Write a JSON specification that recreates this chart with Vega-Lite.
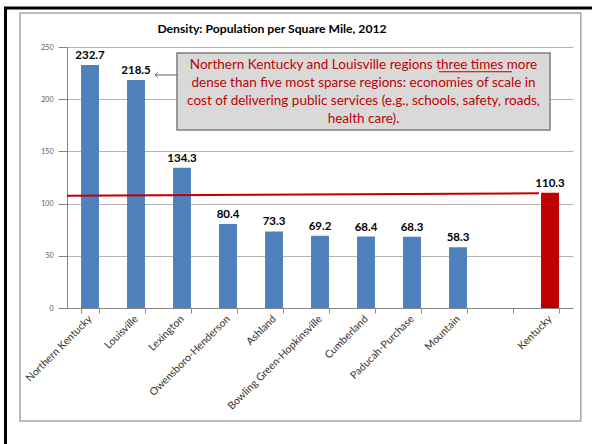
{
  "$schema": "https://vega.github.io/schema/vega-lite/v6.json",
  "width": 506,
  "height": 261,
  "autosize": {"type": "none"},
  "padding": {"left": 67, "top": 47, "right": 19, "bottom": 136},
  "background": "white",
  "title": {
    "text": "Density: Population per Square Mile, 2012",
    "font": "Lato",
    "fontSize": 12.2,
    "fontWeight": "bold",
    "color": "black",
    "anchor": "middle",
    "frame": "group",
    "dx": -48,
    "offset": 0,
    "dy": 39,
    "baseline": "alphabetic"
  },
  "config": {"view": {"stroke": null}, "font": "Lato"},
  "datasets": {
    "bars": [
      {"region": "Northern Kentucky", "density": 232.7, "grp": "region"},
      {"region": "Louisville", "density": 218.5, "grp": "region"},
      {"region": "Lexington", "density": 134.3, "grp": "region"},
      {"region": "Owensboro-Henderson", "density": 80.4, "grp": "region"},
      {"region": "Ashland", "density": 73.3, "grp": "region"},
      {"region": "Bowling Green-Hopkinsville", "density": 69.2, "grp": "region"},
      {"region": "Cumberland", "density": 68.4, "grp": "region"},
      {"region": "Paducah-Purchase", "density": 68.3, "grp": "region"},
      {"region": "Mountain", "density": 58.3, "grp": "region"},
      {"region": "Kentucky", "density": 110.3, "grp": "state"}
    ],
    "note": [
      {"line": "Northern Kentucky and Louisville regions three times more", "x": 6.446, "y": 232.8},
      {"line": "dense than five most sparse regions: economies of scale in", "x": 6.446, "y": 215.5},
      {"line": "cost of delivering public services (e.g., schools, safety, roads,", "x": 6.446, "y": 198.3},
      {"line": "health care).", "x": 6.446, "y": 181.0}
    ]
  },
  "resolve": {"scale": {"x": "independent"}},
  "layer": [
    {
      "data": {"values": [{"x1": -1.337, "x2": 11.8, "y1": 287.4, "y2": -140}]},
      "mark": {"type": "rect", "fill": null, "stroke": "black", "strokeWidth": 3, "clip": false},
      "encoding": {
        "x": {"field": "x1", "type": "quantitative", "scale": {"domain": [0, 11], "zero": false, "nice": false}, "axis": null},
        "x2": {"field": "x2"},
        "y": {"field": "y1", "type": "quantitative", "scale": {"domain": [0, 250], "nice": false}},
        "y2": {"field": "y2"}
      }
    },
    {
      "data": {"values": [{"x1": -1.022, "x2": 11.17, "y1": 282.6, "y2": -108.2}]},
      "mark": {"type": "rect", "fill": null, "stroke": "#a6a6a6", "strokeWidth": 1.5, "clip": false},
      "encoding": {
        "x": {"field": "x1", "type": "quantitative", "scale": {"domain": [0, 11], "zero": false, "nice": false}, "axis": null},
        "x2": {"field": "x2"},
        "y": {"field": "y1", "type": "quantitative", "scale": {"domain": [0, 250], "nice": false}},
        "y2": {"field": "y2"}
      }
    },
    {
      "data": {"name": "bars"},
      "encoding": {
        "x": {
          "field": "region",
          "type": "nominal",
          "sort": null,
          "title": null,
          "scale": {
            "domain": ["Northern Kentucky", "Louisville", "Lexington", "Owensboro-Henderson", "Ashland", "Bowling Green-Hopkinsville", "Cumberland", "Paducah-Purchase", "Mountain", " ", "Kentucky"],
            "paddingInner": 0.61,
            "paddingOuter": 0.305
          },
          "axis": {
            "labelAngle": -45,
            "labelAlign": "right",
            "labelBaseline": "middle",
            "labelFontSize": 10.5,
            "labelColor": "#333333",
            "labelPadding": 4,
            "tickBand": "extent",
            "tickSize": 5,
            "tickColor": "#868686",
            "domainColor": "#868686",
            "labelOverlap": false
          }
        },
        "y": {
          "field": "density",
          "type": "quantitative",
          "title": null,
          "scale": {"domain": [0, 250], "nice": false},
          "axis": {
            "values": [0, 50, 100, 150, 200, 250],
            "labelFontSize": 7,
            "labelColor": "#595959",
            "tickSize": 9,
            "labelPadding": 5,
            "tickColor": "#868686",
            "domainColor": "#868686",
            "gridColor": "#b3b3b3",
            "grid": true
          }
        }
      },
      "layer": [
        {
          "mark": {"type": "bar"},
          "encoding": {
            "color": {
              "field": "grp",
              "type": "nominal",
              "scale": {"domain": ["region", "state"], "range": ["#4f81bd", "#c00000"]},
              "legend": null
            }
          }
        },
        {
          "mark": {"type": "text", "fontSize": 11.5, "fontWeight": "bold", "color": "black", "baseline": "alphabetic", "dy": -6},
          "encoding": {
            "text": {"field": "density", "type": "quantitative", "format": ".1f"}
          }
        }
      ]
    },
    {
      "data": {"values": [{"x": 0, "y": 107.6}, {"x": 10.26, "y": 109.9}]},
      "mark": {"type": "line", "color": "#c00000", "strokeWidth": 2},
      "encoding": {
        "x": {"field": "x", "type": "quantitative", "scale": {"domain": [0, 11], "zero": false, "nice": false}, "axis": null},
        "y": {"field": "y", "type": "quantitative"}
      }
    },
    {
      "data": {"values": [{"x1": 2.391, "x2": 10.5, "y1": 244.3, "y2": 170.5}]},
      "mark": {"type": "rect", "fill": "#d9d9d9", "stroke": "#7f7f7f", "strokeWidth": 1.5},
      "encoding": {
        "x": {"field": "x1", "type": "quantitative", "scale": {"domain": [0, 11], "zero": false, "nice": false}, "axis": null},
        "x2": {"field": "x2"},
        "y": {"field": "y1", "type": "quantitative"},
        "y2": {"field": "y2"}
      }
    },
    {
      "data": {"name": "note"},
      "mark": {"type": "text", "fontSize": 13.5, "color": "#c00000", "align": "center", "baseline": "middle"},
      "encoding": {
        "x": {"field": "x", "type": "quantitative", "scale": {"domain": [0, 11], "zero": false, "nice": false}, "axis": null},
        "y": {"field": "y", "type": "quantitative"},
        "text": {"field": "line"}
      }
    },
    {
      "data": {"values": [{"x1": 8.087, "x2": 9.674, "y": 226.3}]},
      "mark": {"type": "rule", "color": "#c00000", "strokeWidth": 1},
      "encoding": {
        "x": {"field": "x1", "type": "quantitative", "scale": {"domain": [0, 11], "zero": false, "nice": false}, "axis": null},
        "x2": {"field": "x2"},
        "y": {"field": "y", "type": "quantitative"}
      }
    },
    {
      "data": {"values": [{"x1": 1.913, "x2": 2.391, "y": 223.2}]},
      "mark": {"type": "rule", "color": "#595959", "strokeWidth": 1},
      "encoding": {
        "x": {"field": "x1", "type": "quantitative", "scale": {"domain": [0, 11], "zero": false, "nice": false}, "axis": null},
        "x2": {"field": "x2"},
        "y": {"field": "y", "type": "quantitative"}
      }
    },
    {
      "data": {"values": [{"x": 1.913, "y": 223.2}]},
      "mark": {"type": "point", "shape": "M1,-1L0,0L1,1", "filled": false, "stroke": "#595959", "strokeWidth": 1, "size": 30},
      "encoding": {
        "x": {"field": "x", "type": "quantitative", "scale": {"domain": [0, 11], "zero": false, "nice": false}, "axis": null},
        "y": {"field": "y", "type": "quantitative"}
      }
    }
  ]
}
